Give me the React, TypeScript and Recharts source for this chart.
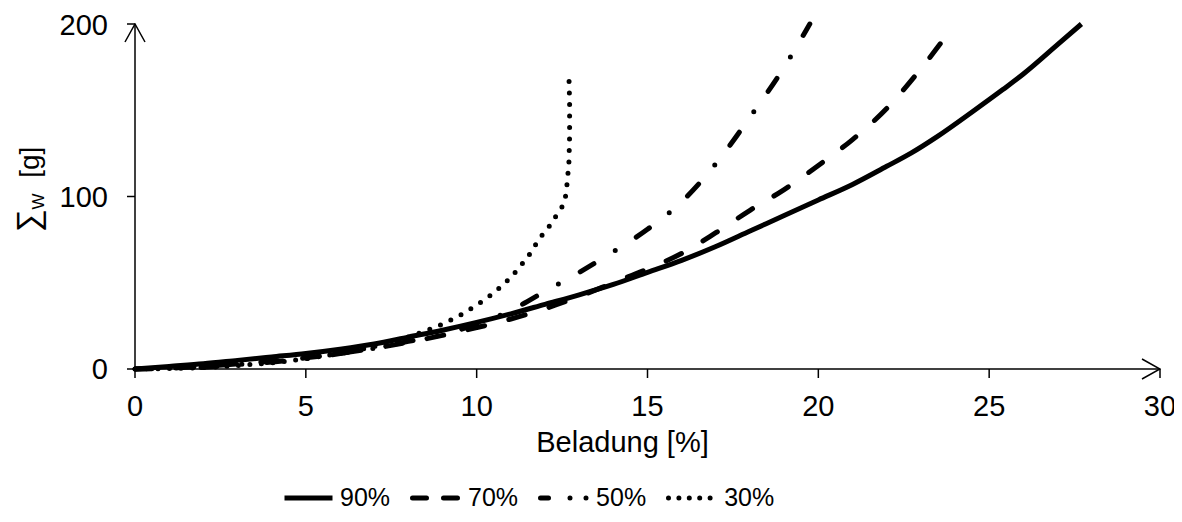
import React from 'react';
import { LineChart, Line, XAxis, YAxis, Legend } from 'recharts';

const xTicks = [0, 5, 10, 15, 20, 25, 30];
const yTicks = [0, 100, 200];
const seriesNames = ['90%', '70%', '50%', '30%'];

// Beladung [%] / Σw [g] pairs
const x90 = [0, 1, 2, 3, 4, 5, 6, 7, 8, 9, 10, 11, 12, 13, 14, 15, 16, 17, 18, 19, 20, 21, 22, 22.7, 23.5, 24.5, 25.4, 26, 27, 27.7];
const y90 = [0, 1.5, 3, 5, 7, 9, 11.5, 14.5, 18.5, 22.5, 27, 32, 37.5, 43, 49, 56, 63, 71, 80, 89, 98, 107, 117.5, 125, 135, 149, 162, 171, 188, 200];

const x70 = [0, 1, 2, 3, 4, 5, 6, 7, 8, 9, 10, 11, 12, 13, 14, 15, 16, 17, 18, 19, 20, 21, 22, 23, 24];
const y70 = [0, 0.5, 1.5, 3, 4.5, 6.5, 9, 12, 15.5, 19.5, 24, 29, 35, 42, 50, 58, 67, 79, 92, 104, 118, 133, 151, 174, 200];

const x50 = [0, 1, 2, 3, 4, 5, 6, 7, 8, 9, 10, 11, 12, 13, 14, 15, 16, 17, 18, 19, 19.75];
const y50 = [0, 0.5, 1, 2.5, 4, 6, 9, 12, 16, 20, 26, 34, 45, 56, 68, 81, 97, 119, 146, 175, 200];

const x30 = [0, 1, 2, 3, 4, 5, 6, 7, 7.76, 8.5, 9, 9.5, 10, 10.5, 11, 11.5, 11.85, 12.1, 12.3, 12.5, 12.6, 12.65, 12.7, 12.72, 12.72, 12.7];
const y30 = [0, 0.3, 0.8, 2, 3.5, 6, 9, 13, 17, 22, 26, 31, 37, 44, 53, 65, 76, 82, 88, 94, 100, 108, 120, 135, 155, 170];

const toPoints = (xs: number[], ys: number[]) => xs.map((x, i) => ({ x, y: ys[i] }));

const s90 = toPoints(x90, y90);
const s70 = toPoints(x70, y70);
const s50 = toPoints(x50, y50);
const s30 = toPoints(x30, y30);

const FONT = '"Liberation Sans", Arial, sans-serif';

const lineDash: Record<string, string | undefined> = {
  '90%': undefined,
  '70%': '17 25',
  '50%': '16 25 0 25',
  '30%': '0 11.5',
};

const legendDash: Record<string, string | undefined> = {
  '90%': undefined,
  '70%': '14 17',
  '50%': '8 21.5 0 16 0 100',
  '30%': '0 10.4',
};

const renderLegend = () => (
  <div style={{ display: 'flex', alignItems: 'center', fontFamily: FONT, fontSize: 25, color: '#000' }}>
    {seriesNames.map(name => (
      <div key={`lg-${name}`} style={{ display: 'flex', alignItems: 'center', marginRight: 20 }}>
        <svg width={53} height={20}>
          <line x1={2.5} y1={10} x2={50.5} y2={10} stroke="#000" strokeWidth={5}
            strokeLinecap={lineDash[name] ? 'round' : 'butt'} strokeDasharray={legendDash[name]} />
        </svg>
        <span style={{ marginLeft: 5 }}>{name}</span>
      </div>
    ))}
  </div>
);

const YLabel = ({ viewBox }: { viewBox?: { x: number; y: number; width: number; height: number } }) => {
  if (!viewBox) return null;
  const cx = 31;
  const cy = viewBox.y + viewBox.height / 2 - 7;
  return (
    <text x={cx} y={cy} transform={`rotate(-90 ${cx} ${cy})`} textAnchor="middle" fontFamily={FONT} fontSize={28} fill="#000">
      <tspan fontSize={32}>{'\u2211'}</tspan>
      <tspan fontSize={17} dy={5}>W</tspan>
      <tspan dy={-5}>{'\u00a0\u00a0[g]'}</tspan>
    </text>
  );
};

const XLabel = ({ viewBox }: { viewBox?: { x: number; y: number; width: number; height: number } }) => {
  if (!viewBox) return null;
  return (
    <text x={viewBox.x + viewBox.width / 2 - 25} y={viewBox.y + 83} textAnchor="middle" fontFamily={FONT} fontSize={29} fill="#000">
      Beladung [%]
    </text>
  );
};

export default function App() {
  const tickStyle = { fontSize: 29, fill: '#000', fontFamily: FONT };
  return (
    <div style={{ width: 1174, height: 514, background: '#fff' }}>
      <LineChart width={1174} height={514} margin={{ top: 16, right: 22, left: 0, bottom: 0 }}>
        <defs>
          <marker id="axisArrow" viewBox="0 0 20 22" refX={19} refY={11} markerWidth={20} markerHeight={22}
            markerUnits="userSpaceOnUse" orient="auto-start-reverse">
            <path d="M1,1 L19,11 L1,21" fill="none" stroke="#000" strokeWidth={1.5} />
          </marker>
        </defs>
        <XAxis dataKey="x" type="number" domain={[0, 30]} ticks={xTicks} height={153}
          tick={tickStyle} tickSize={9} tickMargin={17}
          axisLine={{ stroke: '#000', strokeWidth: 1.5, markerEnd: 'url(#axisArrow)' }}
          tickLine={{ stroke: '#000', strokeWidth: 1.5 }}
          label={{ content: <XLabel /> }} />
        <YAxis type="number" domain={[0, 200]} ticks={yTicks} width={127}
          tick={tickStyle} tickSize={8} tickMargin={19}
          axisLine={{ stroke: '#000', strokeWidth: 1.5, markerStart: 'url(#axisArrow)' }}
          tickLine={{ stroke: '#000', strokeWidth: 1.5 }}
          label={{ content: <YLabel /> }} />
        <Legend layout="horizontal" verticalAlign="middle" align="center" content={renderLegend}
          wrapperStyle={{ top: 475, left: 274, width: 'auto' }} />
        <Line data={s90} dataKey="y" name="90%" type="monotone" stroke="#000" strokeWidth={5}
          dot={false} activeDot={false} isAnimationActive={false} />
        <Line data={s70} dataKey="y" name="70%" type="monotone" stroke="#000" strokeWidth={5}
          strokeDasharray={lineDash['70%']} strokeLinecap="round"
          dot={false} activeDot={false} isAnimationActive={false} />
        <Line data={s50} dataKey="y" name="50%" type="monotone" stroke="#000" strokeWidth={5}
          strokeDasharray={lineDash['50%']} strokeLinecap="round"
          dot={false} activeDot={false} isAnimationActive={false} />
        <Line data={s30} dataKey="y" name="30%" type="linear" stroke="#000" strokeWidth={5}
          strokeDasharray={lineDash['30%']} strokeLinecap="round"
          dot={false} activeDot={false} isAnimationActive={false} />
      </LineChart>
    </div>
  );
}
